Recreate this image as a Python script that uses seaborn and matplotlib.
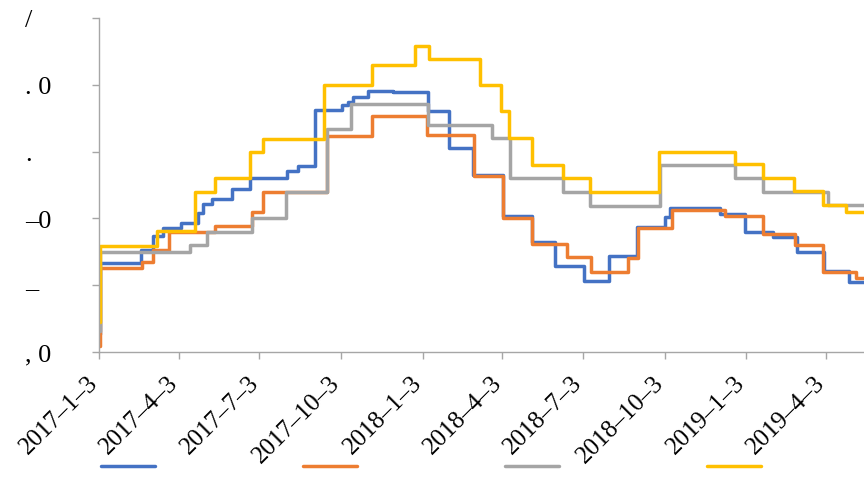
import matplotlib
matplotlib.use('Agg')
import matplotlib.pyplot as plt
import seaborn as sns
import pandas as pd
from matplotlib.lines import Line2D

blue_dates = ['2017-01-03', '2017-01-04', '2017-02-19', '2017-03-05', '2017-03-16', '2017-04-05',
              '2017-04-25', '2017-04-30', '2017-05-11', '2017-06-02', '2017-06-22', '2017-08-03',
              '2017-08-15', '2017-09-04', '2017-10-04', '2017-10-11', '2017-10-17', '2017-11-02',
              '2017-12-01', '2018-01-09', '2018-02-02', '2018-03-01', '2018-04-04', '2018-05-06',
              '2018-06-01', '2018-07-04', '2018-08-01', '2018-09-02', '2018-10-03', '2018-10-09',
              '2018-12-04', '2019-01-02', '2019-02-02', '2019-03-01', '2019-04-01', '2019-04-29',
              '2019-05-16']
blue_values = [0.27, 1.33, 1.53, 1.74, 1.86, 1.93, 2.08, 2.22, 2.29, 2.44, 2.60, 2.71, 2.78,
               3.62, 3.70, 3.74, 3.82, 3.91, 3.89, 3.61, 3.05, 2.65, 2.04, 1.65, 1.29, 1.06,
               1.44, 1.87, 2.02, 2.16, 2.07, 1.80, 1.72, 1.50, 1.21, 1.05, 1.05]

orange_dates = ['2017-01-03', '2017-01-04', '2017-02-20', '2017-03-05', '2017-03-23', '2017-05-14',
                '2017-06-25', '2017-07-07', '2017-09-17', '2017-11-07', '2018-01-08', '2018-03-02',
                '2018-04-04', '2018-05-07', '2018-06-15', '2018-07-12', '2018-08-23', '2018-09-03',
                '2018-10-11', '2018-12-10', '2019-01-22', '2019-02-27', '2019-03-31', '2019-05-07',
                '2019-05-16']
orange_values = [0.09, 1.26, 1.35, 1.53, 1.80, 1.89, 2.10, 2.40, 3.23, 3.53, 3.25, 2.63, 2.01,
                 1.62, 1.42, 1.20, 1.41, 1.86, 2.13, 2.04, 1.77, 1.60, 1.20, 1.11, 1.11]

gray_dates = ['2017-01-03', '2017-01-04', '2017-04-16', '2017-05-05', '2017-06-25', '2017-08-02',
              '2017-09-17', '2017-10-14', '2018-01-09', '2018-03-22', '2018-04-12', '2018-06-11',
              '2018-07-11', '2018-09-28', '2018-12-21', '2019-01-22', '2019-04-05', '2019-05-16']
gray_values = [0.31, 1.50, 1.60, 1.80, 2.01, 2.40, 3.34, 3.71, 3.40, 3.20, 2.60, 2.40, 2.19,
               2.80, 2.60, 2.40, 2.20, 2.20]

yellow_dates = ['2017-01-03', '2017-01-04', '2017-03-09', '2017-04-21', '2017-05-14', '2017-06-22',
                '2017-07-07', '2017-09-14', '2017-11-07', '2017-12-26', '2018-01-10', '2018-03-09',
                '2018-04-02', '2018-04-10', '2018-05-07', '2018-06-11', '2018-07-11', '2018-09-27',
                '2018-12-21', '2019-01-22', '2019-02-26', '2019-03-31', '2019-04-26', '2019-05-16']
yellow_values = [0.45, 1.59, 1.81, 2.40, 2.60, 2.99, 3.19, 4.00, 4.30, 4.58, 4.39, 4.00, 3.61,
                 3.20, 2.80, 2.60, 2.40, 2.99, 2.81, 2.60, 2.41, 2.20, 2.10, 2.10]

series_names = ['s1', 's2', 's3', 's4']
series_colors = ['#4472C4', '#ED7D31', '#A5A5A5', '#FFC000']
x_tick_dates = ['2017-01-03', '2017-04-03', '2017-07-03', '2017-10-03', '2018-01-03',
                '2018-04-03', '2018-07-03', '2018-10-03', '2019-01-03', '2019-04-03']
x_tick_labels = ['2017–1–3', '2017–4–3', '2017–7–3', '2017–10–3', '2018–1–3', '2018–4–3',
                 '2018–7–3', '2018–10–3', '2019–1–3', '2019–4–3']
y_tick_values = [0, 1, 2, 3, 4, 5]
y_tick_labels = [', 0', '–', '–0', '.', '. 0', '/']
x_start = '2017-01-03'
x_end = '2019-05-16'

sns.set_style('white')
plt.rcParams['font.family'] = ['Liberation Serif', 'DejaVu Serif']

frames = []
for name, d, v in zip(series_names,
                      [blue_dates, orange_dates, gray_dates, yellow_dates],
                      [blue_values, orange_values, gray_values, yellow_values]):
    frames.append(pd.DataFrame({'date': pd.to_datetime(d), 'value': v, 'series': name}))
df = pd.concat(frames, ignore_index=True)

fig = plt.figure(figsize=(8.64, 4.81), dpi=100)
ax = fig.add_axes([99 / 864, 1 - 353 / 481, 1 - 99 / 864, (353 - 19) / 481])
sns.lineplot(data=df, x='date', y='value', hue='series', hue_order=series_names,
             palette=series_colors, estimator=None, drawstyle='steps-post',
             linewidth=2.5, legend=False, ax=ax)

ax.set_xlim(pd.Timestamp(x_start), pd.Timestamp(x_end))
ax.set_ylim(0, 5)
ax.set_xticks(pd.to_datetime(x_tick_dates))
ax.set_xticklabels(x_tick_labels, rotation=45, ha='right', va='baseline', rotation_mode='anchor')
ax.set_yticks(y_tick_values)
ax.set_yticklabels(y_tick_labels)
for lab in ax.get_yticklabels():
    lab.set_ha('left')
ax.set_xlabel('')
ax.set_ylabel('')

for s in ['top', 'right']:
    ax.spines[s].set_visible(False)
for s in ['left', 'bottom']:
    ax.spines[s].set_color('#A6A6A6')
    ax.spines[s].set_linewidth(1.0)
ax.tick_params(axis='both', direction='out', length=5, width=1, color='#A6A6A6',
               labelcolor='black', bottom=True, left=True)
ax.tick_params(axis='x', labelsize=18, pad=17.5)
ax.tick_params(axis='y', labelsize=19, pad=48)

handles = [Line2D([], [], color=c, lw=2.5, solid_capstyle='round') for c in series_colors]
fig.legend(handles, [''] * 4, ncol=4, loc='center left',
           bbox_to_anchor=(101 / 864, 12 / 481), frameon=False, borderpad=0,
           borderaxespad=0, handlelength=2.05, handletextpad=0.8, columnspacing=4.8,
           fontsize=19)

fig.savefig('out.png', dpi=100)
